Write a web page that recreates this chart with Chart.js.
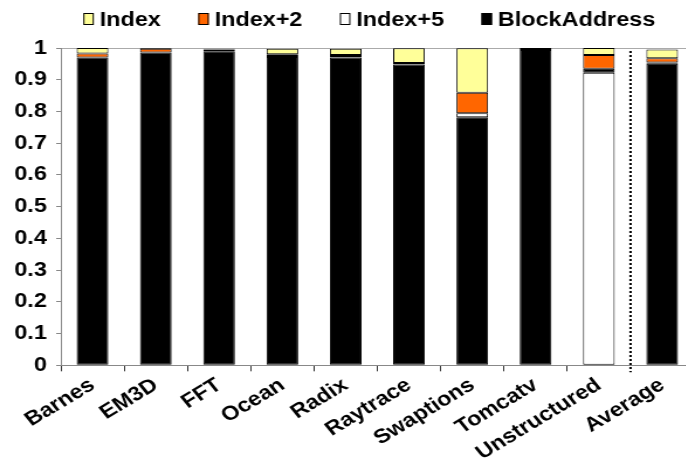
<!DOCTYPE html>
<html>
<head>
<meta charset="utf-8">
<script src="https://cdn.jsdelivr.net/npm/chart.js@4"></script>
<style>
    html, body { margin: 0; padding: 0; background: #fff; }
    .wrap { width: 686px; height: 469px; overflow: hidden; position: relative; }
    /* the original picture is stretched sideways */
    canvas { display: block; transform: scaleX(1.17); transform-origin: 0 0; }
</style>
</head>
<body>
<div class="wrap"><canvas id="chart" width="600" height="469"></canvas></div>
<script>
const categories = ["Barnes", "EM3D", "FFT", "Ocean", "Radix", "Raytrace", "Swaptions", "Tomcatv", "Unstructured", "Average"];
// stacked bottom -> top, as drawn in the picture
const index5Base = [0, 0, 0, 0, 0, 0, 0, 0, 0.922, 0]; // Unstructured's white part sits under the black one
const blockAddress = [0.970, 0.986, 0.990, 0.972, 0.970, 0.948, 0.782, 0.994, 0.013, 0.950];
const index5 = [0, 0, 0, 0.003, 0.005, 0, 0.012, 0.003, 0, 0.004];
const index2 = [0.013, 0.012, 0.005, 0.005, 0.003, 0.005, 0.065, 0, 0.043, 0.014];
const indexVals = [0.017, 0.002, 0.003, 0.018, 0.020, 0.046, 0.140, 0.003, 0.022, 0.027];
const yTicks = [0, 0.1, 0.2, 0.3, 0.4, 0.5, 0.6, 0.7, 0.8, 0.9, 1];

const font = "'Liberation Sans', Arial, sans-serif";

const makeSet = (label, data, color, hidden) => ({
    label,
    data,
    backgroundColor: color,
    borderColor: "#000",
    borderWidth: 1,
    borderSkipped: false,
    barPercentage: 0.5,
    categoryPercentage: 1,
    hideInLegend: !!hidden
});

// dotted separator before "Average"
const separator = {
    id: "separator",
    afterDatasetsDraw(chart) {
        const x = chart.scales.x;
        const area = chart.chartArea;
        const px = (x.getPixelForValue(8) + x.getPixelForValue(9)) / 2;
        const ctx = chart.ctx;
        ctx.save();
        ctx.strokeStyle = "#000";
        ctx.lineWidth = 2;
        ctx.setLineDash([2, 2]);
        ctx.beginPath();
        ctx.moveTo(px, area.top + 3);
        ctx.lineTo(px, area.bottom + 7);
        ctx.stroke();
        ctx.restore();
    }
};

// compact legend: small boxes close to the text, like the original
const topLegend = {
    id: "topLegend",
    afterDraw(chart) {
        const ctx = chart.ctx;
        const items = chart.data.datasets.filter((d) => !d.hideInLegend).reverse();
        ctx.save();
        ctx.font = "bold 20px " + font;
        ctx.textBaseline = "middle";
        const boxW = 9, boxH = 12, gapText = 5, gapItem = 32;
        const widths = items.map((d) => boxW + gapText + ctx.measureText(d.label).width);
        const total = widths.reduce((a, b) => a + b, 0) + gapItem * (items.length - 1);
        let x = chart.chartArea.right - 33 - total;
        const y = 19;
        items.forEach((d, i) => {
            ctx.fillStyle = d.backgroundColor;
            ctx.fillRect(x, y - boxH / 2, boxW, boxH);
            ctx.strokeStyle = "#000";
            ctx.lineWidth = 1;
            ctx.strokeRect(x + 0.5, y - boxH / 2 + 0.5, boxW - 1, boxH - 1);
            ctx.fillStyle = "#000";
            ctx.fillText(d.label, x + boxW + gapText, y + 1);
            x += widths[i] + gapItem;
        });
        ctx.restore();
    }
};

new Chart(document.getElementById("chart"), {
    type: "bar",
    data: {
        labels: categories,
        datasets: [
            makeSet("Index+5", index5Base, "#ffffff", true),
            makeSet("BlockAddress", blockAddress, "#000000"),
            makeSet("Index+5", index5, "#ffffff"),
            makeSet("Index+2", index2, "#ff6600"),
            makeSet("Index", indexVals, "#ffff99")
        ]
    },
    options: {
        responsive: false,
        animation: false,
        layout: { padding: { left: 0, right: 7, top: 48, bottom: 2 } },
        plugins: {
            tooltip: { enabled: false },
            legend: { display: false }
        },
        scales: {
            x: {
                stacked: true,
                grid: {
                    offset: true,
                    drawOnChartArea: false,
                    tickLength: 6,
                    tickColor: (ctx) => (ctx.index === 9 ? "rgba(0,0,0,0)" : "#333")
                },
                border: { color: "#888" },
                ticks: {
                    autoSkip: false,
                    minRotation: 35,
                    maxRotation: 35,
                    padding: 2,
                    color: "#000",
                    font: { family: font, size: 20, weight: "bold" }
                }
            },
            y: {
                stacked: true,
                min: 0,
                max: 1,
                afterBuildTicks: (scale) => {
                    scale.ticks = yTicks.map((v) => ({ value: v }));
                },
                afterFit: (scale) => {
                    scale.width = 52;
                },
                grid: {
                    color: (ctx) => (ctx.tick && ctx.tick.value === 1 ? "#aaa" : "rgba(0,0,0,0)"),
                    tickColor: "#888",
                    tickLength: 4
                },
                border: { color: "#888" },
                ticks: {
                    padding: 8,
                    color: "#000",
                    callback: (v) => String(Number(v.toFixed(1))),
                    font: { family: font, size: 20, weight: "bold" }
                }
            }
        }
    },
    plugins: [separator, topLegend]
});
</script>
</body>
</html>
